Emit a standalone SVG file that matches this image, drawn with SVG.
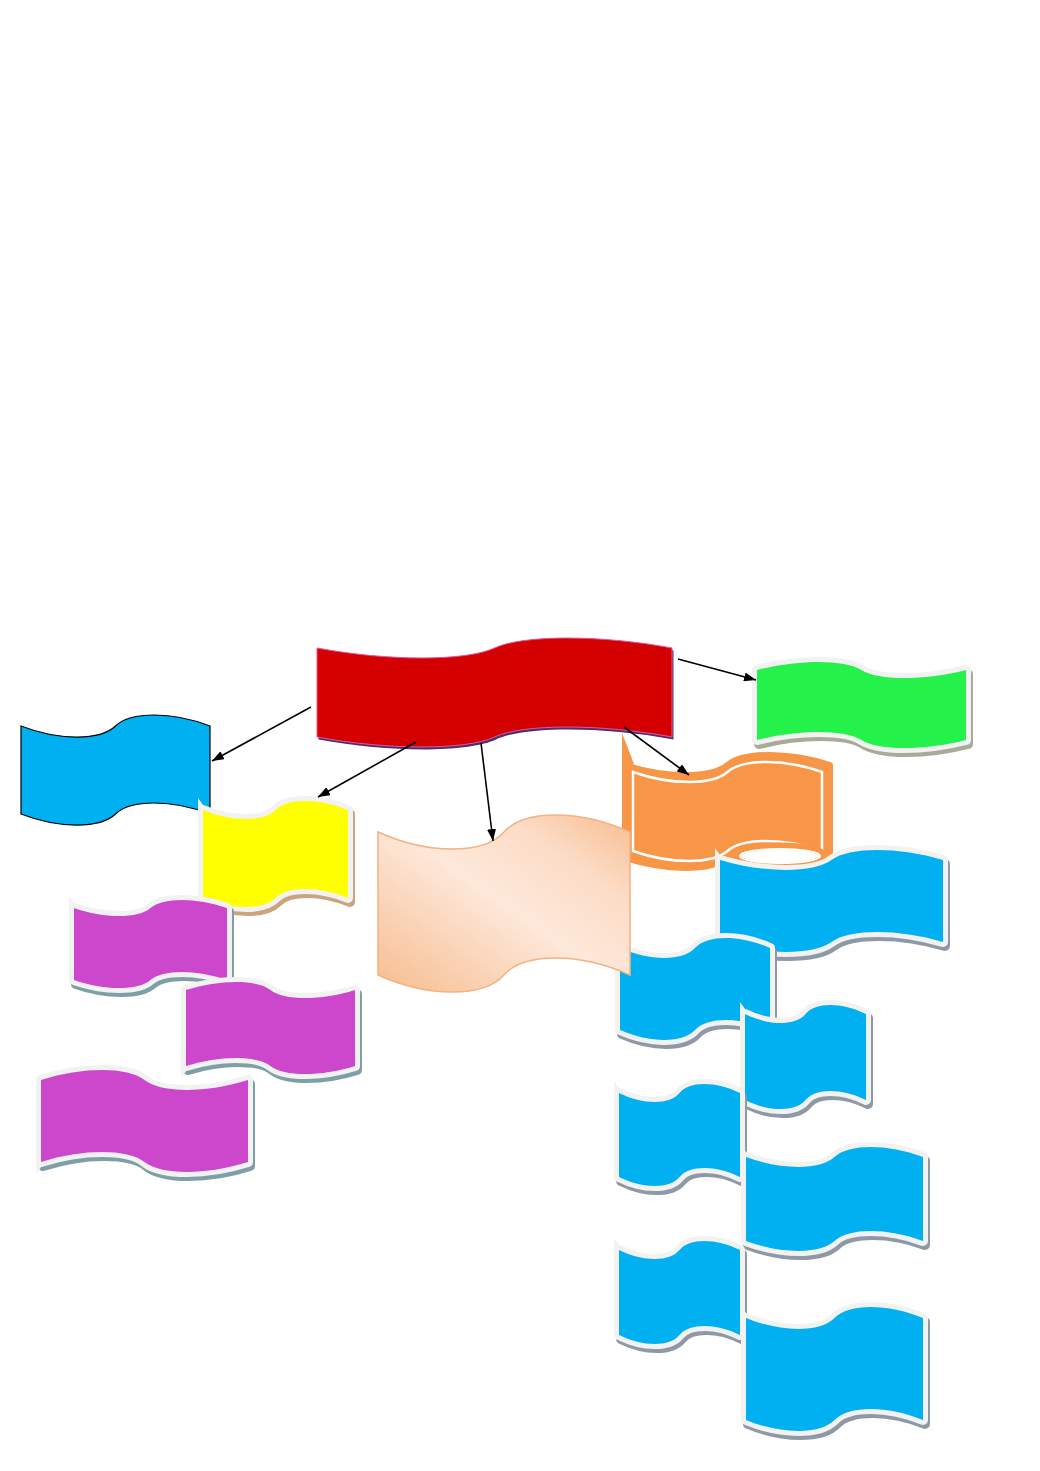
<svg xmlns="http://www.w3.org/2000/svg" xmlns:xlink="http://www.w3.org/1999/xlink" width="1040" height="1471" viewBox="0 0 1040 1471">
<style>
.brd{stroke:#f2f2f2;stroke-width:10;stroke-linejoin:round}
.shd{stroke-width:10;stroke-linejoin:round}
.spk{fill:#f2f2f2}
.blue{fill:#00b0f0}
.pur{fill:#cc47cc}
.sb{fill:#8f99a6;stroke:#8f99a6}
.sp{fill:#7f9fa6;stroke:#7f9fa6}
.conn line{stroke:#000;stroke-width:1.6;fill:none}
</style>
<defs>
<marker id="ah" markerWidth="12" markerHeight="9" refX="12" refY="4.5" orient="auto" markerUnits="userSpaceOnUse"><path d="M0,0 L12,4.5 L0,9 z" fill="#000"/></marker>
<linearGradient id="peachG" x1="0" y1="1" x2="1" y2="0">
<stop offset="0" stop-color="#f7bd90"/>
<stop offset="0.5" stop-color="#fde8da"/>
<stop offset="0.75" stop-color="#fcdcc6"/>
<stop offset="1" stop-color="#f7bd90"/>
</linearGradient>
<path id="pRed" d="M317,648 C388,661.3 466.1,661.3 494.5,648 C522.9,634.7 601,634.7 672,648 L672,737 C601,723.7 522.9,723.7 494.5,737 C466.1,750.3 388,750.3 317,737 Z"/>
<path id="pBL" d="M21,726 C58.8,740.7 100.4,740.7 115.5,726 C130.6,711.3 172.2,711.3 210,726 L210,814 C172.2,799.3 130.6,799.3 115.5,814 C100.4,828.7 58.8,828.7 21,814 Z"/>
<path id="pY" d="M203,810 C232,822 263.9,822 275.5,810 C287.1,798 319,798 348,810 L348,898 C319,886 287.1,886 275.5,898 C263.9,910 232,910 203,898 Z"/>
<path id="pPe" d="M378,832 C428.4,854.7 483.8,854.7 504,832 C524.2,809.3 579.6,809.3 630,832 L630,975 C579.6,952.3 524.2,952.3 504,975 C483.8,997.7 428.4,997.7 378,975 Z"/>
<path id="pG" d="M757,670 C798.8,659.3 844.8,659.3 861.5,670 C878.2,680.7 924.2,680.7 966,670 L966,740 C924.2,750.7 878.2,750.7 861.5,740 C844.8,729.3 798.8,729.3 757,740 Z"/>
<path id="pO" d="M625,765 C666,778.3 711.1,778.3 727.5,765 C743.9,751.7 789,751.7 830,765 L830,858 C789,844.7 743.9,844.7 727.5,858 C711.1,871.3 666,871.3 625,858 Z"/>
<path id="pB7" d="M720,860 C764.6,873.3 813.7,873.3 831.5,860 C849.3,846.7 898.4,846.7 943,860 L943,942 C898.4,928.7 849.3,928.7 831.5,942 C813.7,955.3 764.6,955.3 720,942 Z"/>
<path id="pB8" d="M620,948 C650,961.3 683,961.3 695,948 C707,934.7 740,934.7 770,948 L770,1030 C740,1016.7 707,1016.7 695,1030 C683,1043.3 650,1043.3 620,1030 Z"/>
<path id="pB9" d="M745,1014 C769.2,1026 795.8,1026 805.5,1014 C815.2,1002 841.8,1002 866,1014 L866,1100 C841.8,1088 815.2,1088 805.5,1100 C795.8,1112 769.2,1112 745,1100 Z"/>
<path id="pB10" d="M619,1093 C643.2,1105 669.8,1105 679.5,1093 C689.2,1081 715.8,1081 740,1093 L740,1177 C715.8,1165 689.2,1165 679.5,1177 C669.8,1189 643.2,1189 619,1177 Z"/>
<path id="pB11" d="M746,1157 C781.4,1170.3 820.3,1170.3 834.5,1157 C848.7,1143.7 887.6,1143.7 923,1157 L923,1241 C887.6,1227.7 848.7,1227.7 834.5,1241 C820.3,1254.3 781.4,1254.3 746,1241 Z"/>
<path id="pB12" d="M619,1250 C643.2,1262 669.8,1262 679.5,1250 C689.2,1238 715.8,1238 740,1250 L740,1335 C715.8,1323 689.2,1323 679.5,1335 C669.8,1347 643.2,1347 619,1335 Z"/>
<path id="pB13" d="M746,1318 C781.4,1332.7 820.3,1332.7 834.5,1318 C848.7,1303.3 887.6,1303.3 923,1318 L923,1420 C887.6,1405.3 848.7,1405.3 834.5,1420 C820.3,1434.7 781.4,1434.7 746,1420 Z"/>
<path id="pP1" d="M74,908 C104.6,918.7 138.3,918.7 150.5,908 C162.7,897.3 196.4,897.3 227,908 L227,980 C196.4,969.3 162.7,969.3 150.5,980 C138.3,990.7 104.6,990.7 74,980 Z"/>
<path id="pP2" d="M186,990 C219.8,979.3 257,979.3 270.5,990 C284,1000.7 321.2,1000.7 355,990 L355,1066 C321.2,1076.7 284,1076.7 270.5,1066 C257,1055.3 219.8,1055.3 186,1066 Z"/>
<path id="pP3" d="M41,1080 C82.4,1066.7 127.9,1066.7 144.5,1080 C161.1,1093.3 206.6,1093.3 248,1080 L248,1162 C206.6,1175.3 161.1,1175.3 144.5,1162 C127.9,1148.7 82.4,1148.7 41,1162 Z"/>
</defs>
<rect width="1040" height="1471" fill="#ffffff"/>

<g id="blueLeft">
<use xlink:href="#pBL" fill="#00b0f0" stroke="#000" stroke-width="1.2"/>
</g>
<g id="yellow">
<use xlink:href="#pY" class="shd" fill="#c9a47e" stroke="#c9a47e" transform="translate(2,4)"/>
<use xlink:href="#pY" class="brd" fill="#ffff00"/>
<polygon class="spk" points="198,798 206,809 198,814"/>
<use xlink:href="#pY" fill="#ffff00"/>
</g>
<g id="purple1">
<use xlink:href="#pP1" class="shd sp" transform="translate(2,4)"/>
<use xlink:href="#pP1" class="brd pur"/>
<polygon class="spk" points="69,896 77,907 69,912"/>
<use xlink:href="#pP1" class="pur"/>
</g>
<g id="purple2">
<use xlink:href="#pP2" class="shd sp" transform="translate(2,4)"/>
<use xlink:href="#pP2" class="brd pur"/>
<polygon class="spk" points="181,1078 189,1067 181,1062"/>
<use xlink:href="#pP2" class="pur"/>
</g>
<g id="purple3">
<use xlink:href="#pP3" class="shd sp" transform="translate(2,4)"/>
<use xlink:href="#pP3" class="brd pur"/>
<polygon class="spk" points="36,1174 44,1163 36,1158"/>
<use xlink:href="#pP3" class="pur"/>
</g>
<g id="orange">
<polygon points="622,733 634,764 622,768" fill="#f79646"/>
<use xlink:href="#pO" fill="#f79646" stroke="#f79646" stroke-width="6" stroke-linejoin="round"/>
<path d="M633,772 C670.8,785.3 712.4,785.3 727.5,772 C742.6,758.7 784.2,758.7 822,772 L822,851 C784.2,837.7 742.6,837.7 727.5,851 C712.4,864.3 670.8,864.3 633,851 Z" fill="none" stroke="#ffffff" stroke-width="2.5"/>
<ellipse cx="780" cy="856" rx="44" ry="10" fill="#ffffff" stroke="#f79646" stroke-width="7"/>
<ellipse cx="780" cy="856" rx="40" ry="7" fill="none" stroke="#ffffff" stroke-width="2"/>
</g>
<g id="green">
<use xlink:href="#pG" class="shd" fill="#a7ab98" stroke="#a7ab98" transform="translate(2,4)"/>
<use xlink:href="#pG" class="brd" fill="#24f24b"/>
<use xlink:href="#pG" fill="#24f24b"/>
</g>
<g id="blue7">
<use xlink:href="#pB7" class="shd sb" transform="translate(2,4)"/>
<use xlink:href="#pB7" class="brd blue"/>
<polygon class="spk" points="715,848 723,859 715,864"/>
<use xlink:href="#pB7" class="blue"/>
</g>
<g id="blue8">
<use xlink:href="#pB8" class="shd sb" transform="translate(2,4)"/>
<use xlink:href="#pB8" class="brd blue"/>
<polygon class="spk" points="615,936 623,947 615,952"/>
<use xlink:href="#pB8" class="blue"/>
</g>
<g id="blue9">
<use xlink:href="#pB9" class="shd sb" transform="translate(2,4)"/>
<use xlink:href="#pB9" class="brd blue"/>
<polygon class="spk" points="740,1002 748,1013 740,1018"/>
<use xlink:href="#pB9" class="blue"/>
</g>
<g id="blue10">
<use xlink:href="#pB10" class="shd sb" transform="translate(2,4)"/>
<use xlink:href="#pB10" class="brd blue"/>
<polygon class="spk" points="614,1081 622,1092 614,1097"/>
<use xlink:href="#pB10" class="blue"/>
</g>
<g id="blue11">
<use xlink:href="#pB11" class="shd sb" transform="translate(2,4)"/>
<use xlink:href="#pB11" class="brd blue"/>
<polygon class="spk" points="741,1145 749,1156 741,1161"/>
<use xlink:href="#pB11" class="blue"/>
</g>
<g id="blue12">
<use xlink:href="#pB12" class="shd sb" transform="translate(2,4)"/>
<use xlink:href="#pB12" class="brd blue"/>
<polygon class="spk" points="614,1238 622,1249 614,1254"/>
<use xlink:href="#pB12" class="blue"/>
</g>
<g id="blue13">
<use xlink:href="#pB13" class="shd sb" transform="translate(2,4)"/>
<use xlink:href="#pB13" class="brd blue"/>
<polygon class="spk" points="741,1306 749,1317 741,1322"/>
<use xlink:href="#pB13" class="blue"/>
</g>
<g id="peach">
<use xlink:href="#pPe" fill="url(#peachG)" stroke="#f2b384" stroke-width="1.5"/>
</g>
<g id="red">
<use xlink:href="#pRed" fill="#4a3070" transform="translate(1.5,2.5)"/>
<use xlink:href="#pRed" fill="#d40000" stroke="#e8559a" stroke-width="1"/>
</g>

<g id="connectors" class="conn">
<line x1="311" y1="707" x2="212" y2="761" marker-end="url(#ah)"/>
<line x1="416" y1="742" x2="318" y2="797" marker-end="url(#ah)"/>
<line x1="481" y1="743" x2="493" y2="841" marker-end="url(#ah)"/>
<line x1="678" y1="659" x2="756" y2="680" marker-end="url(#ah)"/>
<line x1="624" y1="727" x2="689" y2="775" marker-end="url(#ah)"/>
</g>
</svg>
